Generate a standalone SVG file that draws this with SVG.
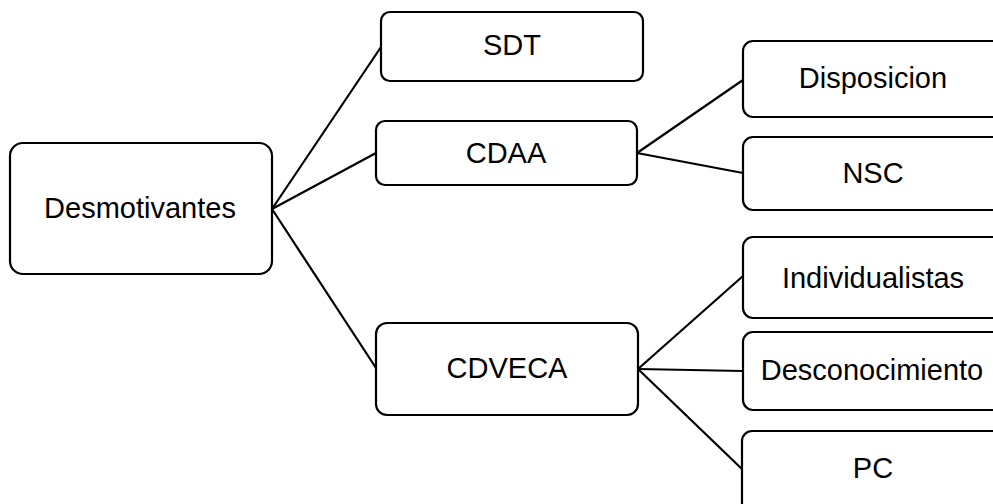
<svg xmlns="http://www.w3.org/2000/svg" width="993" height="504" viewBox="0 0 993 504">
  <style>
    .box { fill: #ffffff; stroke: #000000; stroke-width: 2.2; }
    .lbl { font-family: "Liberation Sans", Arial, sans-serif; font-size: 29px; fill: #000000; text-anchor: middle; }
    .edge { stroke: #000000; stroke-width: 2.2; fill: none; }
  </style>
  <rect width="993" height="504" fill="#ffffff"/>

  <!-- connectors -->
  <g id="connectors">
    <line class="edge" x1="272" y1="209" x2="381" y2="47"/>
    <line class="edge" x1="272" y1="209" x2="376" y2="153"/>
    <line class="edge" x1="272" y1="209" x2="376" y2="368"/>
    <line class="edge" x1="637" y1="153" x2="743" y2="80"/>
    <line class="edge" x1="637" y1="153" x2="743" y2="173"/>
    <line class="edge" x1="638" y1="369" x2="743" y2="276"/>
    <line class="edge" x1="638" y1="369" x2="743" y2="371"/>
    <line class="edge" x1="638" y1="369" x2="743" y2="470"/>
  </g>

  <!-- root -->
  <g id="desmotivantes">
    <rect class="box" x="10" y="143" width="262" height="131" rx="13"/>
    <text class="lbl" x="140" y="218">Desmotivantes</text>
  </g>

  <!-- second level -->
  <g id="sdt">
    <rect class="box" x="381" y="12" width="262" height="69" rx="9"/>
    <text class="lbl" x="512" y="55">SDT</text>
  </g>
  <g id="cdaa">
    <rect class="box" x="376" y="121" width="261" height="64" rx="9"/>
    <text class="lbl" x="506" y="163">CDAA</text>
  </g>
  <g id="cdveca">
    <rect class="box" x="376" y="323" width="262" height="92" rx="11"/>
    <text class="lbl" x="507" y="378">CDVECA</text>
  </g>

  <!-- third level -->
  <g id="disposicion">
    <rect class="box" x="743" y="41" width="261" height="76" rx="10"/>
    <text class="lbl" x="873" y="88">Disposicion</text>
  </g>
  <g id="nsc">
    <rect class="box" x="743" y="137" width="261" height="73" rx="10"/>
    <text class="lbl" x="873" y="183">NSC</text>
  </g>
  <g id="individualistas">
    <rect class="box" x="743" y="237" width="261" height="81" rx="10"/>
    <text class="lbl" x="873" y="288">Individualistas</text>
  </g>
  <g id="desconocimiento">
    <rect class="box" x="743" y="332" width="261" height="78" rx="10"/>
    <text class="lbl" x="872" y="380">Desconocimiento</text>
  </g>
  <g id="pc">
    <rect class="box" x="742" y="431" width="262" height="90" rx="10"/>
    <text class="lbl" x="873" y="478">PC</text>
  </g>
</svg>
